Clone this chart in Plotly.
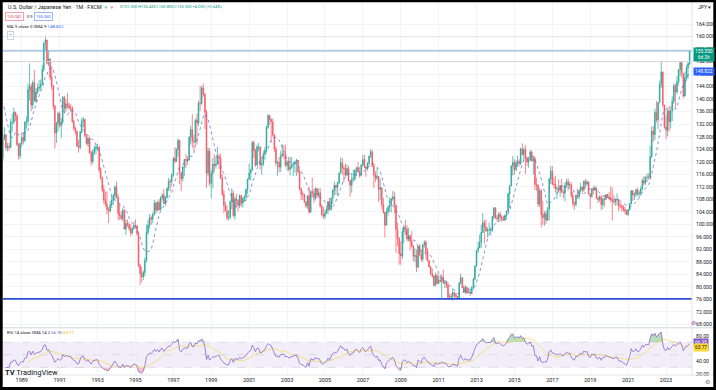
import numpy as np
import pandas as pd
import plotly.graph_objects as go

# ---------------- data (monthly USD/JPY, Jan 1987 .. Apr 2024) ----------------
start_month = "1987-01-01"
first_open = 159.1

close_ = [
    153.5,153.4,145.8,139.5,144.5,147.0,149.3,142.1,146.3,138.5,132.5,121.1,  # 1987
    127.3,128.6,124.5,124.9,124.6,132.6,132.6,135.8,134.6,125.5,121.9,125.9,  # 1988
    127.7,126.8,132.6,132.9,143.0,144.1,138.1,145.3,139.4,142.3,143.5,143.8,  # 1989
    144.8,149.5,157.7,158.9,151.5,152.8,147.0,144.2,137.8,129.2,132.3,135.4,  # 1990
    131.5,132.7,140.6,137.0,138.5,138.0,137.2,137.2,132.9,130.7,129.6,124.9,  # 1991
    124.6,129.5,133.0,133.5,128.4,125.8,127.4,122.8,120.1,123.2,124.2,124.7,  # 1992
    124.7,117.5,114.9,111.1,107.7,106.5,104.8,104.3,106.2,107.8,109.2,111.9,  # 1993
    108.6,103.5,102.8,101.9,104.5,98.5,100.3,99.9,98.7,97.2,98.7,99.6,        # 1994
    99.4,97.0,86.8,84.4,83.2,84.6,88.4,97.4,99.8,102.1,101.7,103.2,           # 1995
    106.8,104.6,107.0,104.7,108.6,109.4,106.6,108.6,111.5,113.8,113.7,115.9,  # 1996
    121.1,120.2,124.0,126.8,116.5,114.6,118.4,120.7,120.6,120.5,127.8,130.3,  # 1997
    126.6,126.4,133.3,132.4,138.8,138.7,143.6,141.6,135.8,116.3,123.4,113.1,  # 1998
    116.3,119.2,118.8,119.3,121.7,121.0,114.8,109.7,106.2,104.3,102.1,102.2,  # 1999
    107.4,109.9,102.8,108.1,107.6,106.2,109.2,106.8,108.2,108.9,111.1,114.4,  # 2000
    116.4,117.4,126.1,123.5,118.9,124.7,124.7,119.0,119.4,122.4,123.6,131.0,  # 2001
    134.7,133.5,132.8,128.5,124.1,119.6,119.8,118.3,121.8,122.5,122.3,118.8,  # 2002
    119.9,117.6,118.2,118.9,119.4,119.8,120.5,116.9,111.4,109.6,109.6,107.2,  # 2003
    105.9,109.1,103.9,110.5,110.0,108.7,111.4,109.2,110.1,105.8,103.1,102.6,  # 2004
    103.6,104.6,107.2,104.8,108.4,110.9,112.5,111.8,113.3,116.4,119.7,118.0,  # 2005
    117.8,115.8,117.8,113.9,112.5,114.4,114.6,117.3,118.1,116.8,115.8,119.0,  # 2006
    120.7,118.4,117.8,119.4,121.8,123.2,118.6,115.8,114.8,115.3,111.2,111.7,  # 2007
    106.3,103.8,99.7,104.0,105.5,106.2,108.1,108.8,106.1,98.4,95.5,90.7,      # 2008
    89.9,97.6,98.9,98.6,95.3,96.4,94.7,93.0,89.8,90.0,86.3,93.0,              # 2009
    90.3,88.9,93.5,94.3,91.3,88.4,86.4,84.2,83.5,80.4,83.6,81.1,              # 2010
    82.1,81.8,83.1,81.2,81.5,80.5,76.7,76.7,77.0,78.2,77.6,76.9,              # 2011
    76.2,81.2,82.9,79.8,78.3,79.8,78.1,78.4,77.9,79.8,82.5,86.7,              # 2012
    91.7,92.5,94.2,97.4,100.5,99.1,97.9,98.2,98.3,98.4,102.4,105.3,           # 2013
    102.0,101.8,103.2,102.3,101.8,101.3,102.8,104.1,109.7,112.3,118.6,119.8,  # 2014
    117.5,119.6,120.1,119.4,124.1,122.4,123.9,121.2,119.9,120.6,123.1,120.2,  # 2015
    121.0,112.7,112.6,106.5,110.7,103.2,102.1,103.4,101.3,104.8,114.5,117.0,  # 2016
    112.8,112.8,111.4,111.5,110.8,112.4,110.3,110.0,112.5,113.6,112.5,112.7,  # 2017
    109.2,106.7,106.3,109.3,108.8,110.8,111.9,111.0,113.7,112.9,113.5,109.7,  # 2018
    108.9,111.4,110.9,111.4,108.3,107.9,108.8,106.3,108.1,108.0,109.5,108.6,  # 2019
    108.4,107.9,107.5,107.2,107.8,107.9,105.9,105.9,105.5,104.7,104.3,103.2,  # 2020
    104.7,106.6,110.7,109.3,109.6,111.1,109.7,110.0,111.3,114.0,113.2,115.1,  # 2021
    115.1,115.0,121.7,129.8,128.7,135.7,133.3,138.9,144.7,148.7,138.1,131.1,  # 2022
    130.1,136.2,132.8,136.3,139.3,144.3,142.3,145.5,149.4,151.7,148.2,141.0,  # 2023
    146.9,150.0,151.35,155.35,                                                # 2024
]

high_ = [
    160.0,155.0,153.7,146.6,145.0,148.5,151.5,150.3,147.0,147.0,138.5,135.0,
    128.6,131.0,128.9,126.0,126.0,133.7,135.5,137.3,136.0,135.3,126.0,126.0,
    129.3,129.3,133.0,134.5,145.0,151.4,145.0,146.0,149.3,143.5,145.0,146.2,
    146.3,150.9,158.2,160.3,159.0,155.5,153.0,150.5,144.5,138.0,132.7,136.0,
    136.0,134.0,141.0,141.0,140.0,142.0,139.0,138.5,137.8,133.5,131.3,130.0,
    127.0,129.9,134.0,134.3,133.7,128.8,128.0,128.0,123.5,124.0,125.1,125.5,
    125.8,125.0,118.2,115.3,112.6,110.5,110.5,105.5,107.5,109.0,109.8,112.5,
    113.6,109.5,106.5,104.2,105.3,104.8,101.5,101.5,100.6,100.0,99.2,100.8,
    101.5,99.8,97.0,87.5,86.4,85.3,89.5,99.9,101.5,103.3,102.8,103.8,
    107.8,107.2,107.5,108.0,108.9,109.9,111.3,109.0,111.8,114.8,114.5,116.3,
    121.5,124.7,124.2,127.5,127.0,116.6,118.5,120.9,122.5,121.8,128.1,131.5,
    135.2,128.5,133.8,135.4,139.5,144.3,144.2,145.0,141.9,136.6,124.5,124.4,
    117.3,121.3,122.5,121.7,124.8,122.5,122.5,116.0,111.0,107.2,106.0,104.5,
    107.6,111.5,110.8,108.8,109.7,108.0,109.5,109.5,108.7,109.5,111.4,114.6,
    119.4,117.8,126.7,126.8,124.2,125.5,126.0,125.0,121.5,123.5,124.8,131.6,
    135.2,135.1,133.9,133.8,128.9,125.0,120.3,121.5,123.5,125.7,125.3,125.5,
    120.5,121.5,121.5,121.5,119.8,120.2,120.9,120.3,117.6,111.8,110.6,109.7,
    107.3,109.3,112.2,110.8,114.9,111.3,111.9,111.2,111.5,111.5,106.3,105.5,
    104.7,106.0,107.5,108.5,108.5,111.2,113.7,112.4,113.7,116.5,121.4,121.2,
    118.9,119.4,119.1,118.7,114.1,116.4,117.5,117.5,118.4,119.9,118.3,119.3,
    122.2,122.2,118.5,119.9,121.9,124.1,123.7,119.3,117.0,117.9,115.4,114.6,
    111.8,108.5,104.0,105.1,106.1,108.6,108.5,110.7,110.4,106.3,100.5,96.0,
    94.6,98.9,99.7,101.4,99.8,98.9,96.5,97.8,93.4,92.3,91.9,93.1,
    93.8,91.8,93.6,94.9,94.9,92.4,88.6,86.6,85.9,83.9,84.5,84.5,
    83.7,84.0,83.9,85.5,82.2,81.8,81.5,77.9,77.9,79.6,78.3,78.1,
    77.1,81.6,84.2,83.3,80.5,80.6,80.1,79.7,78.9,80.3,82.8,86.8,
    91.8,94.5,96.7,99.9,103.7,101.4,101.5,99.1,100.6,99.1,102.6,105.4,
    105.4,102.9,103.8,104.1,103.0,102.8,103.1,104.5,110.1,112.5,118.9,121.8,
    120.8,120.5,122.0,120.8,124.5,125.86,124.6,125.3,121.7,121.5,123.8,123.6,
    121.7,121.7,114.9,112.7,111.5,111.4,107.5,104.3,104.3,105.5,114.8,118.7,
    118.6,114.9,115.5,112.2,114.4,112.5,114.5,111.1,113.4,114.5,114.7,113.7,
    113.4,110.5,107.3,109.5,111.4,111.1,113.2,112.1,114.1,114.5,114.2,113.7,
    110.0,111.5,112.1,112.4,112.0,108.8,109.3,109.3,108.5,109.3,109.7,109.7,
    110.3,112.2,111.7,109.4,108.1,109.9,108.2,107.0,106.5,106.1,105.7,104.7,
    104.9,106.7,110.9,110.9,110.2,111.1,111.7,110.8,112.1,114.7,115.5,115.2,
    116.3,116.3,125.1,131.3,131.3,137.0,139.4,139.1,145.9,151.95,148.8,138.2,
    134.8,136.9,137.9,137.0,140.9,145.1,144.9,147.4,149.7,151.7,151.9,148.2,
    148.8,150.9,151.97,155.45,
]

low_ = [
    149.9,151.0,145.0,137.3,139.2,142.0,146.2,141.5,140.8,137.5,131.5,121.0,
    120.2,127.0,123.6,123.3,123.5,124.3,129.6,132.0,133.0,125.0,120.6,121.0,
    124.6,125.5,126.3,130.5,131.5,139.5,136.2,136.8,139.2,138.8,141.6,142.5,
    142.8,144.5,148.8,155.5,151.0,150.5,146.0,142.9,136.7,124.2,126.0,129.7,
    131.0,127.5,132.0,135.5,136.0,137.0,136.5,136.0,132.5,130.0,128.6,124.8,
    122.9,124.0,129.0,131.0,127.8,125.3,124.7,122.5,118.8,119.3,122.2,122.4,
    123.5,116.6,114.2,110.3,106.5,105.6,103.2,100.4,103.8,105.2,106.3,107.8,
    108.2,101.2,101.5,101.4,101.0,98.2,96.6,99.2,97.9,96.2,96.7,98.3,
    98.6,96.4,86.3,80.6,81.5,82.2,83.4,87.8,96.6,98.5,99.9,100.4,
    102.8,103.5,104.0,104.3,104.5,107.6,106.5,106.0,108.3,110.6,110.6,112.2,
    115.3,119.5,119.8,121.6,112.8,110.6,113.7,115.5,118.0,119.0,120.5,125.5,
    124.5,123.4,125.8,125.5,131.5,136.2,138.2,140.8,130.5,111.6,115.3,112.2,
    108.3,111.5,116.7,117.8,119.0,117.6,114.5,109.0,103.6,104.2,101.2,101.3,
    101.6,104.9,102.3,101.5,105.4,104.1,105.2,105.6,105.3,107.2,107.6,109.7,
    114.2,114.0,117.1,121.2,118.3,118.7,123.3,117.5,115.8,118.6,120.7,123.2,
    130.5,131.8,126.3,128.0,123.1,118.5,115.6,116.6,116.7,121.5,120.9,118.4,
    117.1,117.0,115.7,117.8,115.5,116.6,115.5,116.1,110.8,107.7,107.8,106.8,
    105.2,104.9,103.4,103.8,108.6,106.8,107.6,108.3,108.6,105.4,102.5,101.8,
    101.7,103.3,103.2,104.3,104.3,106.5,109.2,109.4,109.3,112.8,116.3,115.8,
    113.4,115.4,115.5,113.7,108.9,110.1,113.6,113.8,115.4,116.5,114.9,115.3,
    118.5,118.0,115.2,117.2,118.9,121.2,118.4,111.6,113.5,114.1,107.2,107.8,
    104.9,103.4,95.8,99.6,102.8,103.9,103.8,107.5,103.5,90.9,93.1,87.1,
    87.1,88.9,93.9,96.6,94.5,94.5,91.7,92.6,88.2,88.0,84.8,86.1,
    89.8,88.1,88.1,92.6,88.7,88.2,86.3,83.6,82.9,80.4,80.3,80.9,
    80.9,81.5,76.3,81.2,79.6,79.7,76.6,75.9,75.9,75.55,76.6,76.6,
    75.9,76.1,80.9,79.6,78.0,77.7,77.9,78.0,77.1,77.8,79.1,82.1,
    86.5,90.8,92.6,92.5,97.5,93.8,97.6,95.8,96.9,96.6,97.6,101.6,
    101.8,100.8,100.8,101.4,100.8,101.1,101.1,101.5,104.2,105.2,112.6,115.6,
    115.9,116.9,118.3,118.5,118.9,121.9,120.4,116.1,118.6,118.1,120.3,120.1,
    115.9,110.99,110.7,105.5,105.5,99.0,99.9,99.5,100.1,101.2,101.2,112.9,
    112.5,111.6,110.1,108.1,110.2,108.8,110.0,108.3,107.3,111.7,110.8,111.9,
    108.3,105.6,104.6,105.7,108.1,108.1,110.3,109.8,110.4,111.4,112.3,109.6,
    104.9,108.5,109.7,110.8,108.3,106.8,107.2,104.5,104.9,105.7,108.2,108.4,
    107.7,107.0,101.2,106.4,105.9,106.1,104.2,105.1,104.0,104.0,103.2,102.9,
    102.6,104.4,106.4,107.5,107.8,108.6,109.1,108.7,109.1,110.8,112.5,112.6,
    113.5,114.2,114.8,121.3,126.4,126.9,132.5,130.4,138.9,143.5,137.5,130.6,
    127.2,128.1,129.6,130.6,133.0,138.4,137.2,141.6,144.4,147.3,146.7,140.3,
    140.8,145.9,146.5,150.8,
]

# horizontal levels drawn on the chart
level_top = 160.0
level_mid = 152.0
level_now = 155.4
level_support = 76.2

price_ticks = list(range(68, 165, 4))
rsi_ticks = [20, 40, 60, 80]
year_ticks = list(range(1989, 2024, 2))

# ---------------- derived series ----------------
dates = pd.date_range(start_month, periods=len(close_), freq="MS")
open_ = [first_open] + close_[:-1]          # FX: month opens at previous close
c = pd.Series(close_, dtype=float)
sma9 = c.rolling(9).mean()

def rma(vals, n):
    out = np.full(len(vals), np.nan)
    out[n] = np.mean(vals[1:n + 1])
    for i in range(n + 1, len(vals)):
        out[i] = (out[i - 1] * (n - 1) + vals[i]) / n
    return out

d = c.diff().fillna(0).values
up = rma(np.clip(d, 0, None), 14)
dn = rma(np.clip(-d, 0, None), 14)
rsi = pd.Series(100 - 100 / (1 + up / dn))
rsi_ma = rsi.rolling(14).mean()

UP, DN = "#26a69a", "#f7525f"

# ---------------- geometry helpers ----------------
W, H = 716, 390
ML, MR, MT, MB = 3, 24, 1, 15
PW, PH = W - ML - MR, H - MT - MB
def px(x): return (x - ML) / PW
def py(y): return (H - MB - y) / PH

fig = go.Figure()

fig.add_trace(go.Candlestick(
    x=dates, open=open_, high=high_, low=low_, close=close_,
    increasing=dict(line=dict(color=UP, width=0.7), fillcolor=UP),
    decreasing=dict(line=dict(color=DN, width=0.7), fillcolor=DN),
    whiskerwidth=0, xaxis="x", yaxis="y", showlegend=False, hoverinfo="skip"))

fig.add_trace(go.Scatter(x=dates, y=sma9, mode="lines",
                         line=dict(color="#5563c9", width=0.7, dash="dot"),
                         xaxis="x", yaxis="y", showlegend=False, hoverinfo="skip"))

# RSI pane
n = len(dates)
fig.add_trace(go.Scatter(x=dates, y=[70] * n, mode="lines", line=dict(width=0),
                         xaxis="x", yaxis="y2", showlegend=False, hoverinfo="skip"))
fig.add_trace(go.Scatter(x=dates, y=np.maximum(rsi, 70), mode="lines", line=dict(width=0),
                         fill="tonexty", fillcolor="rgba(76,175,80,0.40)",
                         xaxis="x", yaxis="y2", showlegend=False, hoverinfo="skip"))
fig.add_trace(go.Scatter(x=dates, y=[30] * n, mode="lines", line=dict(width=0),
                         xaxis="x", yaxis="y2", showlegend=False, hoverinfo="skip"))
fig.add_trace(go.Scatter(x=dates, y=np.minimum(rsi, 30), mode="lines", line=dict(width=0),
                         fill="tonexty", fillcolor="rgba(242,54,69,0.30)",
                         xaxis="x", yaxis="y2", showlegend=False, hoverinfo="skip"))
fig.add_trace(go.Scatter(x=dates, y=rsi_ma, mode="lines", line=dict(color="#f3dc6b", width=0.8),
                         xaxis="x", yaxis="y2", showlegend=False, hoverinfo="skip"))
fig.add_trace(go.Scatter(x=dates, y=rsi, mode="lines", line=dict(color="#7e57c2", width=0.7),
                         xaxis="x", yaxis="y2", showlegend=False, hoverinfo="skip"))

FONT = "Roboto, Arial, sans-serif"
fig.update_layout(
    width=W, height=H, margin=dict(l=ML, r=MR, t=MT, b=MB),
    paper_bgcolor="white", plot_bgcolor="white",
    font=dict(family=FONT, color="#131722", size=6),
    xaxis=dict(type="date", range=["1988-01-05", "2024-05-16"], anchor="y2",
               tickvals=[f"{yy}-01-01" for yy in year_ticks],
               ticktext=[str(yy) for yy in year_ticks],
               tickfont=dict(size=5.5, color="#131722"),
               showgrid=True, gridcolor="#f3f4f7", gridwidth=1,
               rangeslider=dict(visible=False), showline=False, ticks="",
               zeroline=False, fixedrange=True),
    yaxis=dict(domain=[py(327.5), 1], range=[67.04, 171.36], side="right", anchor="x",
               tickvals=price_ticks, ticktext=[f"{v:.3f}" for v in price_ticks],
               tickfont=dict(size=5.2, color="#131722"), ticklabelstandoff=3,
               showgrid=True, gridcolor="#f3f4f7", zeroline=False, showline=False, ticks=""),
    yaxis2=dict(domain=[0, py(328.5)], range=[18, 91.4], side="right", anchor="x",
                tickvals=rsi_ticks, ticktext=[f"{v:.2f}" for v in rsi_ticks],
                tickfont=dict(size=5.2, color="#131722"), ticklabelstandoff=3,
                showgrid=False, zeroline=False, showline=False, ticks=""),
)

shapes = []
# RSI band + dashed levels
shapes.append(dict(type="rect", xref="paper", yref="y2", x0=0, x1=1, y0=30, y1=70,
                   fillcolor="rgba(126,87,194,0.10)", line=dict(width=0), layer="below"))
for lv in (70, 50, 30):
    shapes.append(dict(type="line", xref="paper", yref="y2", x0=0, x1=1, y0=lv, y1=lv,
                       line=dict(color="rgba(120,123,134,0.30)", width=0.6, dash="dash"),
                       layer="below"))
# horizontal drawings on the price pane
shapes.append(dict(type="line", xref="paper", yref="y", x0=0, x1=1, y0=level_top, y1=level_top,
                   line=dict(color="#e3e5ea", width=1)))
shapes.append(dict(type="line", xref="paper", yref="y", x0=0, x1=1, y0=level_mid, y1=level_mid,
                   line=dict(color="#d3d6dd", width=1)))
shapes.append(dict(type="line", xref="paper", yref="y", x0=0, x1=1, y0=level_now, y1=level_now,
                   line=dict(color="#7ea3d6", width=1)))
shapes.append(dict(type="line", xref="paper", yref="y", x0=0, x1=1, y0=level_support, y1=level_support,
                   line=dict(color="#2f50d0", width=1.6)))
# pane separators / borders
shapes.append(dict(type="line", xref="paper", yref="paper", x0=px(0), x1=px(W), y0=py(327.8), y1=py(327.8),
                   line=dict(color="#d1d4dc", width=1)))
shapes.append(dict(type="line", xref="paper", yref="paper", x0=px(0), x1=px(W), y0=py(375), y1=py(375),
                   line=dict(color="#e0e3eb", width=1)))
shapes.append(dict(type="line", xref="paper", yref="paper", x0=1, x1=1, y0=py(375), y1=py(0),
                   line=dict(color="#e0e3eb", width=1)))
# outer black frame
shapes.append(dict(type="rect", xref="paper", yref="paper", x0=px(1.2), x1=px(714.8),
                   y0=py(388.5), y1=py(0.8), line=dict(color="black", width=3),
                   fillcolor="rgba(0,0,0,0)"))
fig.update_layout(shapes=shapes)

ann = []
def txt(x, y, s, size=5.5, color="#131722", **kw):
    d = dict(xref="paper", yref="paper", x=px(x), y=py(y), text=s, showarrow=False,
             xanchor="left", yanchor="middle", font=dict(size=size, color=color, family=FONT))
    d.update(kw)
    ann.append(d)

o, h, l, cl = open_[-1], high_[-1], low_[-1], close_[-1]
chg = cl - o
txt(6, 7, "U.S. Dollar / Japanese Yen · 1M · FXCM", size=5.4)
txt(102, 7, "●", size=6, color="#8fd3c3")
txt(108, 7, "●", size=6, color="#f7a1a8")
txt(118, 7, f"O{o:.3f} H{h:.3f} L{l:.3f} C{cl:.3f} {chg:+.3f} ({chg / o * 100:+.2f}%)",
    size=4.0, color="#089981")
txt(5, 16.5, f"{cl - 0.009:.3f}", size=4.0, color="#f23645", bordercolor="#f7a1a8", borderpad=1)
txt(25, 16.5, "0.9", size=4.0, color="#131722")
txt(34, 16.5, f"{cl:.3f}", size=4.0, color="#2962ff", bordercolor="#9db5f5", borderpad=1)
txt(5, 26, f"MA 9 close 0 SMA 9 <span style='color:#2962ff'>{sma9.iloc[-1]:.3f}</span>", size=4.4)
txt(6.5, 35.5, "⌃", size=4.4, color="#131722", bordercolor="#d1d4dc", borderpad=1)
txt(5, 332.5, f"RSI 14 close SMA 14 2 <span style='color:#7e57c2'>{rsi.iloc[-1]:.2f}</span>"
              f" <span style='color:#e0b400'>{rsi_ma.iloc[-1]:.2f}</span>", size=4.3)
txt(3, 372, "<b>TV</b> TradingView", size=7.5, color="#131722")
txt(696, 7, "JPY ▾", size=5.0, color="#131722")
txt(703, 381, "⚙", size=6, color="#787b86")
txt(689, 322, "⊘", size=6, color="#9c27b0")

# price-scale labels
def scale_label(yref, yv, s, bg, fg="white"):
    ann.append(dict(xref="paper", yref=yref, x=1, y=yv, xanchor="left", yanchor="middle",
                    xshift=1, text=s, showarrow=False, bgcolor=bg, borderpad=1,
                    font=dict(size=4.8, color=fg, family=FONT)))
scale_label("y", cl - 1.0, f"{cl:.3f}<br>6d 2h", "#089981")
scale_label("y", sma9.iloc[-1], f"{sma9.iloc[-1]:.3f}", "#2962ff")
scale_label("y2", rsi.iloc[-1] + 2, f"{rsi.iloc[-1]:.2f}", "#7e57c2")
scale_label("y2", rsi_ma.iloc[-1] - 2, f"{rsi_ma.iloc[-1]:.2f}", "#fdd835", fg="#131722")
fig.update_layout(annotations=ann)

fig.write_html("out.html", config={"displayModeBar": False},
               post_script="document.body.style.margin='0';")
